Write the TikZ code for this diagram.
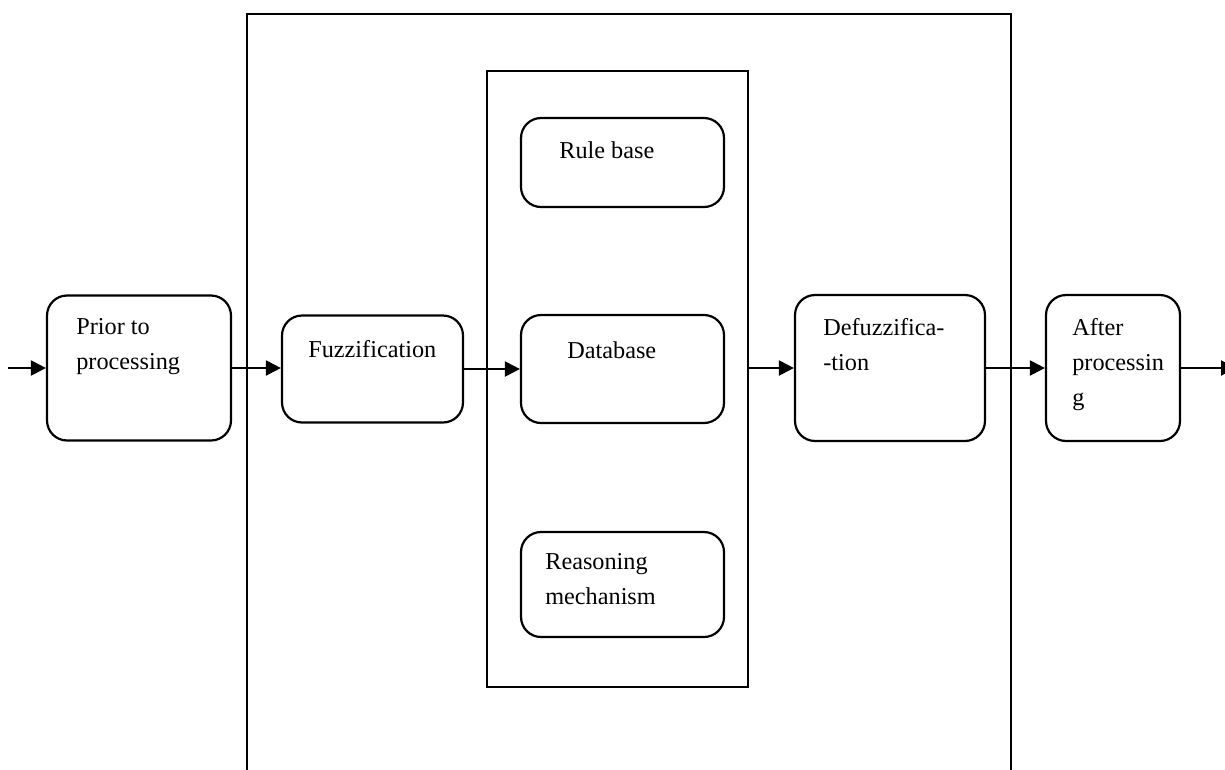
\documentclass[tikz,border=0pt]{standalone}
\usepackage{fontspec}
\setmainfont{Liberation Serif}
\usetikzlibrary{arrows.meta}
\tikzset{
	blk/.style={draw, line width=1.25pt, rounded corners=0.4cm, inner sep=0pt},
	frame/.style={draw, line width=0.9pt, inner sep=0pt},
	txt/.style={anchor=north west, inner sep=0pt, align=left, font=\fontsize{13.8}{20}\selectfont},
	flow/.style={line width=1.2pt, -{Triangle[length=0.3cm,width=0.3cm]}}
}
\begin{document}
\begin{tikzpicture}[x=0.02cm, y=-0.02cm]
						\useasboundingbox (0,0) rectangle (1225,769);
						
						% open frame round the inference part
						\draw[line width=0.9pt] (247,775) -- (247,14) -- (1011,14) -- (1011,775);
						\node[frame, minimum width=5.22cm, minimum height=12.32cm] (kb) at (617.5,379) {};
						
						% boxes
						\node[blk, minimum width=3.68cm, minimum height=2.9cm] (prior) at (139,368) {};
						\node[blk, minimum width=3.62cm, minimum height=2.14cm] (fuzz) at (372.5,369) {};
						\node[blk, minimum width=4.06cm, minimum height=1.78cm] (rule) at (622.5,162.5) {};
						\node[blk, minimum width=4.06cm, minimum height=2.16cm] (data) at (622.5,369) {};
						\node[blk, minimum width=4.06cm, minimum height=2.1cm] (reason) at (622.5,584.5) {};
						\node[blk, minimum width=3.8cm, minimum height=2.92cm] (defuzz) at (890,368) {};
						\node[blk, minimum width=2.68cm, minimum height=2.92cm] (after) at (1113,368) {};
						
						% texts
						\node[txt] (priortext) at (76,318) {Prior to\\processing};
						\node[txt] (fuzztext) at (308,340) {Fuzzification};
						\node[txt] (ruletext) at (559,141) {Rule base};
						\node[txt] (datatext) at (567,341) {Database};
						\node[txt] (reasontext) at (545,553) {Reasoning\\mechanism};
						\node[txt] (defuzztext) at (823,318) {Defuzzifica-\\-tion};
						\node[txt] (aftertext) at (1072,318) {After\\processin\\g};
						
						% flow
						\coordinate (in) at (8,368);
						\coordinate (out) at (1236,368);
						\draw[flow] (in) -- (prior.west);
						\draw[flow] (prior.east) -- (prior.east -| fuzz.west);
						\draw[flow] (fuzz.east) -- (fuzz.east -| data.west);
						\draw[flow] (defuzz.west -| kb.east) -- (defuzz.west);
						\draw[flow] (defuzz.east) -- (after.west);
						\draw[flow] (after.east) -- (out);
					\end{tikzpicture}
\end{document}
